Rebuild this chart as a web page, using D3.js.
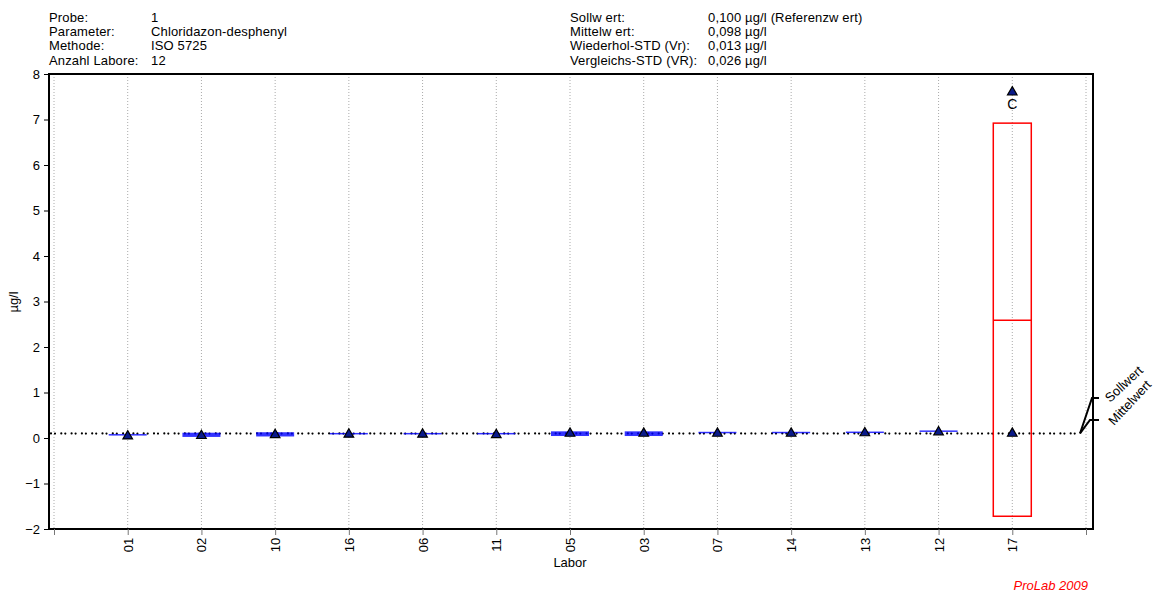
<!DOCTYPE html>
<html><head><meta charset="utf-8">
<script src="https://cdn.jsdelivr.net/npm/d3@7"></script>
<style>body{margin:0;background:#fff}text{font-family:"Liberation Sans",Arial,sans-serif}</style>
</head><body><svg id="c" width="1162" height="597"></svg>
<script>
const labs = ["01","02","10","16","06","11","05","03","07","14","13","12","17"];
const boxLow  = [0.07,0.04,0.05,0.095,0.095,0.095,0.06,0.06,0.12,0.12,0.125,0.15,-1.72];
const boxHigh = [0.07,0.10,0.11,0.095,0.095,0.095,0.13,0.13,0.12,0.12,0.125,0.15,6.92];
const boxMed  = [0.07,0.07,0.08,0.095,0.095,0.095,0.10,0.10,0.12,0.12,0.125,0.15,2.59];
const pointVals = [[0.04],[0.05],[0.07],[0.08],[0.08],[0.07],[0.10],[0.10],[0.10],[0.10],[0.11],[0.13],[0.10,7.6]];
const pointFlags = [[""],[""],[""],[""],[""],[""],[""],[""],[""],[""],[""],[""],["","C"]];
const yTicks = [-2,-1,0,1,2,3,4,5,6,7,8];
const sollwert = 0.100, mittelwert = 0.098;
const headerLeftLabels = ["Probe:","Parameter:","Methode:","Anzahl Labore:"];
const headerLeftValues = ["1","Chloridazon-desphenyl","ISO 5725","12"];
const headerRightLabels = ["Sollw ert:","Mittelw ert:","Wiederhol-STD (Vr):","Vergleichs-STD (VR):"];
const headerRightValues = ["0,100 µg/l (Referenzw ert)","0,098 µg/l","0,013 µg/l","0,026 µg/l"];

const svg = d3.select("#c");
const L=49, R=1093, T=74, B=529;
const FS = 13, LS = "0.15px";
const x = d3.scaleLinear().domain([0, labs.length+1]).range([54,1086]);
const y = d3.scaleLinear().domain([-2,8]).range([B,T]);

// header
const hl = svg.append("g").attr("font-size",FS).attr("letter-spacing",LS).attr("fill","#000");
headerLeftLabels.forEach((t,i)=>{
  hl.append("text").attr("x",49).attr("y",21.5+i*14.4).text(t);
  hl.append("text").attr("x",151).attr("y",21.5+i*14.4).text(headerLeftValues[i]);
  hl.append("text").attr("x",570).attr("y",21.5+i*14.4).text(headerRightLabels[i]);
  hl.append("text").attr("x",708).attr("y",21.5+i*14.4).text(headerRightValues[i]);
});

// vertical grid
const gx = d3.range(0, labs.length+2);
svg.append("g").selectAll("line").data(gx).join("line")
  .attr("x1",d=>x(d)).attr("x2",d=>x(d)).attr("y1",T).attr("y2",B)
  .attr("stroke","#aaa").attr("stroke-width",1).attr("stroke-dasharray","1,2");

// reference dotted lines
[sollwert, mittelwert].forEach((v,i)=>{
  svg.append("line").attr("x1",L+2).attr("x2",1080).attr("y1",y(v)).attr("y2",y(v))
    .attr("stroke","#000").attr("stroke-width",2.2).attr("stroke-linecap","round")
    .attr("stroke-dasharray","0,10.3").attr("stroke-dashoffset", i? -4 : 0);
});

// boxes
labs.forEach((lab,i)=>{
  const cx = x(i+1), w = 19;
  const big = lab==="17";
  const col = big ? "#ff0000" : "#0000ff";
  const y1 = y(boxHigh[i]), y2 = y(boxLow[i]);
  if (big) {
    svg.append("rect").attr("x",cx-w).attr("y",y1).attr("width",2*w).attr("height",y2-y1)
      .attr("fill","none").attr("stroke",col).attr("stroke-width",1.5);
    svg.append("line").attr("x1",cx-w).attr("x2",cx+w).attr("y1",y(boxMed[i])).attr("y2",y(boxMed[i]))
      .attr("stroke",col).attr("stroke-width",1.5);
  } else {
    svg.append("rect").attr("x",cx-w).attr("y",y1-0.75).attr("width",2*w).attr("height",Math.max(y2-y1,0)+1.5)
      .attr("fill",col).attr("fill-opacity",0.8).attr("stroke","none");
  }
});

// points
const tri = d3.symbol().type(d3.symbolTriangle).size(40);
labs.forEach((lab,i)=>{
  pointVals[i].forEach((v,j)=>{
    svg.append("path").attr("d",tri()).attr("transform",`translate(${x(i+1)},${y(v)})`)
      .attr("fill","#0a1a8a").attr("stroke","#000").attr("stroke-width",1.2);
    if (pointFlags[i][j]) svg.append("text").attr("x",x(i+1)).attr("y",y(v)+17)
      .attr("text-anchor","middle").attr("font-size",14).text(pointFlags[i][j]);
  });
});

// frame
svg.append("rect").attr("x",L).attr("y",T).attr("width",R-L).attr("height",B-T)
  .attr("fill","none").attr("stroke","#000").attr("stroke-width",2);

// y axis
const ya = svg.append("g").attr("transform",`translate(${L},0)`)
  .call(d3.axisLeft(y).tickValues(yTicks).tickFormat(d3.format("d")).tickSize(5).tickPadding(4));
ya.select(".domain").remove();
ya.selectAll("text").attr("font-size",FS).attr("fill","#000").attr("font-family","Liberation Sans, Arial");
ya.selectAll("line").attr("stroke","#000");

// x axis
const xa = svg.append("g").attr("transform",`translate(0,${B})`)
  .call(d3.axisBottom(x).tickValues(gx).tickSize(6).tickFormat(d=> (d>=1 && d<=labs.length) ? labs[d-1] : ""));
xa.select(".domain").remove();
xa.selectAll("line").attr("stroke","#777");
xa.selectAll("text").attr("font-size",FS).attr("fill","#000").attr("font-family","Liberation Sans, Arial")
  .attr("transform","rotate(-90)").attr("text-anchor","middle").attr("dy","0.35em")
  .attr("x",-16).attr("y",0);

svg.append("text").attr("x",570).attr("y",567).attr("text-anchor","middle").attr("font-size",FS).text("Labor");
svg.append("text").attr("transform","translate(18,302) rotate(-90)").attr("text-anchor","middle").attr("font-size",FS).text("µg/l");

// right leader labels
const yl = y(sollwert);
svg.append("path").attr("d",`M1080,${yl} L1092,398 L1099,398`).attr("fill","none").attr("stroke","#000").attr("stroke-width",2);
svg.append("path").attr("d",`M1080,${yl} L1090,420 L1099,420`).attr("fill","none").attr("stroke","#000").attr("stroke-width",2);
svg.append("text").attr("transform","translate(1110,403) rotate(-43)").attr("font-size",FS).text("Sollwert");
svg.append("text").attr("transform","translate(1114,426) rotate(-47)").attr("font-size",FS).text("Mittelwert");

svg.append("text").attr("x",1088).attr("y",590).attr("text-anchor","end").attr("font-size",FS)
  .attr("font-style","italic").attr("fill","#ff0000").text("ProLab 2009");
</script></body></html>
